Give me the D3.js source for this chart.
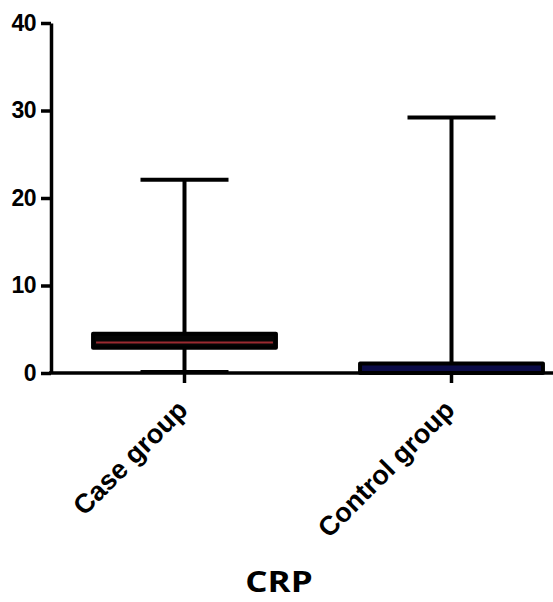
<html lang="en">
<head>
  <meta charset="UTF-8">
  <title>CRP box plot</title>
  <style>
    body { margin: 0; background: #fff; }
    .tick text { font-family: "Liberation Sans", Arial, sans-serif; font-weight: bold; }
  </style>
</head>
<body>
  <div class="svg-target"></div>
  <script src="https://d3js.org/d3.v7.min.js"></script>
  <script>
    // values
    const groups = ["Case group", "Control group"];
    const mins = [0.2, 0];
    const q1s = [2.9, 0];
    const medians = [3.5, 0.4];
    const q3s = [4.5, 1.1];
    const maxs = [22.1, 29.2];
    const yTicks = [0, 10, 20, 30, 40];

    // styles
    const boxFill = ["#050505", "#0c0c48"];
    const medianColour = ["#9a2a30", "#0c0c48"];

    const w = 553;
    const h = 602;

    const svg = d3.select("div.svg-target")
      .append("svg")
      .attr("width", w)
      .attr("height", h);

    const yScale = d3.scaleLinear()
      .domain([0, 40])
      .range([373, 23]);

    // band runs past the right edge, like the original
    const xScale = d3.scaleBand()
      .domain(groups)
      .range([51, 585])
      .padding(0);

    const boxW = xScale.bandwidth() * 0.685;
    const capW = 88;

    //y axis
    const yAxis = d3.axisLeft(yScale)
      .tickValues(yTicks)
      .tickSize(10)
      .tickSizeOuter(0)
      .tickPadding(5);
    const gy = svg.append("g")
      .attr("transform", "translate(51,0)")
      .call(yAxis);
    gy.selectAll("path, line").attr("stroke", "#000").attr("stroke-width", 3.5);
    gy.selectAll("text")
      .attr("font-size", 23)
      .attr("letter-spacing", -0.5)
      .attr("fill", "#000");

    //x axis
    const xAxis = d3.axisBottom(xScale)
      .tickSize(10)
      .tickSizeOuter(0);
    const gx = svg.append("g")
      .attr("transform", "translate(0,373)")
      .call(xAxis);
    gx.selectAll("path, line").attr("stroke", "#000").attr("stroke-width", 3.5);
    gx.select("path").attr("d", "M49,0H" + w);
    gx.selectAll("text")
      .attr("font-size", 27)
      .attr("fill", "#000")
      .attr("text-anchor", "end")
      .attr("x", 0)
      .attr("y", 0)
      .attr("dy", "0.35em")
      .attr("transform", "translate(-2,32) rotate(-45)");

    const data = groups.map((g, i) => ({
      g: g, i: i, min: mins[i], q1: q1s[i], med: medians[i], q3: q3s[i], max: maxs[i]
    }));
    const cx = (d) => xScale(d.g) + xScale.bandwidth() / 2;

    const box = svg.selectAll("g.box")
      .data(data)
      .enter()
      .append("g")
      .attr("class", "box");

    // whisker line
    box.append("line")
      .attr("x1", cx)
      .attr("x2", cx)
      .attr("y1", (d) => yScale(d.max))
      .attr("y2", (d) => yScale(d.min))
      .attr("stroke", "#000")
      .attr("stroke-width", 4);

    // caps
    box.append("line")
      .attr("x1", (d) => cx(d) - capW / 2)
      .attr("x2", (d) => cx(d) + capW / 2)
      .attr("y1", (d) => yScale(d.max))
      .attr("y2", (d) => yScale(d.max))
      .attr("stroke", "#000")
      .attr("stroke-width", 4);
    box.append("line")
      .attr("x1", (d) => cx(d) - capW / 2)
      .attr("x2", (d) => cx(d) + capW / 2)
      .attr("y1", (d) => yScale(d.min))
      .attr("y2", (d) => yScale(d.min))
      .attr("stroke", "#000")
      .attr("stroke-width", 2.5);

    // box
    box.append("rect")
      .attr("x", (d) => cx(d) - boxW / 2)
      .attr("width", boxW)
      .attr("y", (d) => yScale(d.q3))
      .attr("height", (d) => yScale(d.q1) - yScale(d.q3))
      .attr("fill", (d) => boxFill[d.i])
      .attr("stroke", "#000")
      .attr("stroke-width", 4)
      .attr("stroke-linejoin", "round");

    // median
    box.append("line")
      .attr("x1", (d) => cx(d) - boxW / 2 + 3)
      .attr("x2", (d) => cx(d) + boxW / 2 - 3)
      .attr("y1", (d) => yScale(d.med))
      .attr("y2", (d) => yScale(d.med))
      .attr("stroke", (d) => medianColour[d.i])
      .attr("stroke-width", 2);

    // title
    svg.append("text")
      .attr("text-anchor", "middle")
      .attr("transform", "translate(279,592) scale(1.25,1)")
      .attr("font-family", "'Open Sans', sans-serif")
      .attr("font-weight", "bold")
      .attr("font-size", 28)
      .text("CRP");
  </script>
</body>
</html>
